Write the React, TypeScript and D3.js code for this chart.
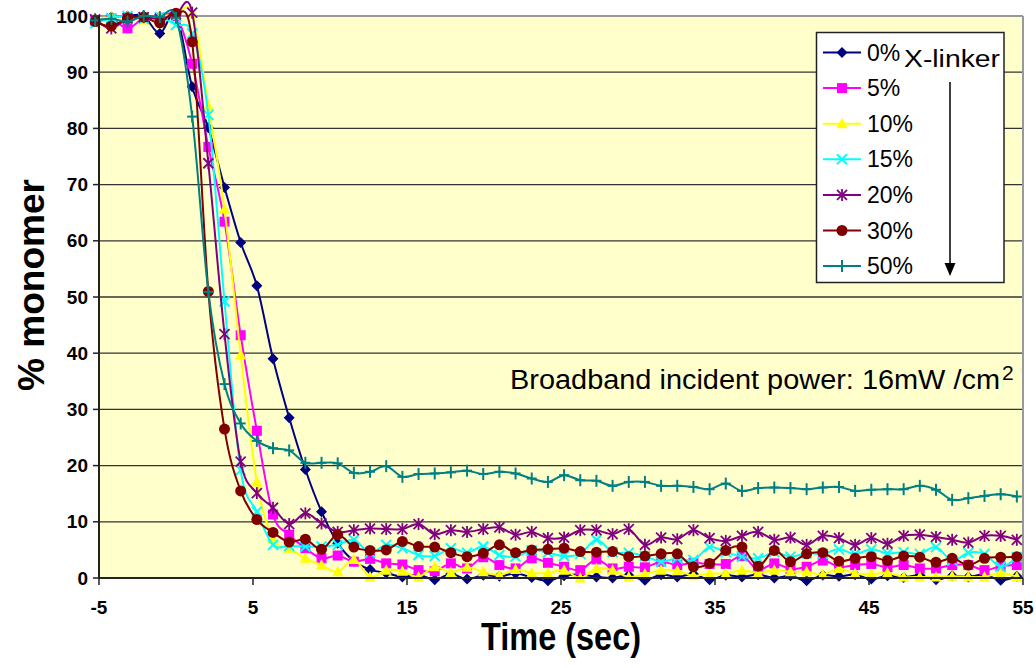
import React from 'react';
import * as d3 from 'd3';

// sample times (sec)
const times = [-5.25, -4.2, -3.15, -2.1, -1.05, 0, 1.05, 2.1, 3.15, 4.2, 5.25, 6.3, 7.35, 8.4, 9.45, 10.5, 11.55, 12.6, 13.65, 14.7, 15.75, 16.8, 17.85, 18.9, 19.95, 21, 22.05, 23.1, 24.15, 25.2, 26.25, 27.3, 28.35, 29.4, 30.45, 31.5, 32.55, 33.6, 34.65, 35.7, 36.75, 37.8, 38.85, 39.9, 40.95, 42, 43.05, 44.1, 45.15, 46.2, 47.25, 48.3, 49.35, 50.4, 51.45, 52.5, 53.55, 54.6];

// % monomer for each crosslinker fraction
const x0 = [99.5, 99.8, 100, 100, 96.9, 100.2, 87.4, 80.1, 69.5, 59.7,
  52, 39, 28.5, 19.3, 11.8, 6.2, 3.0, 1.5, 0.9, 0.2,
  0.6, -0.3, 0.7, -0.2, 0.5, 0.3, 0.8, 0.1, -0.5, 0.4,
  0.6, 0.2, 0, 0.5, -0.4, 0.6, 0.2, 0.7, -0.3, 0.5,
  0.2, 0.6, 0, 0.4, -0.5, 0.5, 0.3, 0.6, -0.2, 0.4,
  0.1, 0.5, -0.3, 0.4, 0.2, 0.6, -0.4, 0.3];
const x5 = [99.2, 99.5, 97.8, 99.6, 99.7, 100, 91.5, 76.7, 63.4, 43.2,
  26.2, 11.3, 7.7, 5.3, 3.5, 4.0, 2.9, 3.4, 2.6, 2.4,
  1.4, 1.2, 2.6, 1.7, 3.7, 2.3, 1.7, 3.5, 2.7, 2.0,
  1.4, 3.3, 1.7, 2.0, 1.9, 2.9, 2.3, 2.7, 2.5, 2.5,
  3.9, 1.5, 2.6, 1.6, 2.0, 3.1, 2.0, 2.3, 2.5, 1.9,
  2.3, 1.7, 1.7, 2.3, 2.3, 1.4, 2.1, 2.3];
const x10 = [99.6, 99.8, 99.9, 99.3, 100, 100.2, 100.5, 84, 65.6, 39.7,
  17.1, 7, 5.3, 3.5, 2.3, 1.1, 3.3, 0.2, 1.4, 1.2,
  0.2, 2.0, 1.0, 1.9, 1.1, 0.5, 1.5, 0.9, 0.9, 1.4,
  0, 1.7, 1.4, 0.2, 0.7, 1.4, 1.3, 0.4, 0.8, 0.8,
  1.4, 0.9, 1.4, 1.1, 1.1, 0.6, 1.7, 0.8, 0.7, 0.9,
  0.2, 0.2, 0.2, 0.3, 0.2, 0.2, 0.9, 0.2];
const x15 = [98.7, 99.6, 100, 99.5, 99.8, 98.4, 96.9, 82.4, 49.2, 19.2,
  11.8, 5.9, 5.7, 5.6, 5.6, 5.9, 6.8, 4.5, 5.9, 5.3,
  4.1, 3.9, 5.3, 4.5, 5.6, 4.1, 3.8, 4.9, 4.5, 3.9,
  4.3, 6.8, 4.6, 4.5, 3.9, 2.9, 3.5, 3.2, 5.5, 4.6,
  3.8, 3.5, 4.6, 3.8, 4.4, 4.3, 5.1, 4.3, 5.1, 4.4,
  4.6, 4.3, 5.5, 3.1, 4.5, 4.3, 2.0, 3.7];
const x20 = [99.4, 97.8, 99.6, 99.8, 99.5, 100.3, 100.6, 73.8, 43.4, 20.7,
  15.1, 12.5, 9.6, 11.5, 9.7, 8.2, 8.5, 8.8, 8.7, 8.7,
  9.6, 7.8, 8.5, 8.2, 8.7, 9.0, 7.7, 8.2, 7.1, 7.2,
  8.5, 8.5, 7.8, 8.7, 5.9, 7.2, 6.9, 8.5, 7.1, 6.6,
  7.5, 8.2, 6.8, 7.2, 5.9, 7.5, 7.1, 5.9, 7.1, 6.1,
  7.5, 7.7, 7.3, 6.8, 6.3, 7.5, 7.5, 6.8];
const x30 = [99.0, 98.2, 99.6, 99.8, 98.8, 100.5, 95.4, 51, 26.5, 15.5,
  10.4, 8.1, 6.4, 6.9, 5.1, 7.7, 5.5, 4.9, 5.0, 6.5,
  5.6, 5.5, 4.5, 3.8, 4.4, 5.9, 4.5, 5.0, 5.1, 5.3,
  4.7, 4.6, 4.7, 3.8, 3.9, 4.3, 4.3, 2.0, 2.6, 4.9,
  5.5, 2.1, 4.9, 2.9, 4.3, 4.5, 3.0, 3.5, 3.8, 3.1,
  3.9, 3.7, 2.8, 3.5, 2.3, 3.5, 3.7, 3.8];
const x50 = [99.2, 99.5, 99, 100, 99.8, 99.7, 82.1, 50.9, 34.5, 27.5,
  24.4, 23.1, 22.7, 20.5, 20.5, 20.4, 18.7, 18.9, 19.9, 18.0,
  18.5, 18.6, 18.8, 19.1, 18.5, 18.9, 18.6, 17.7, 17.1, 18.3,
  17.4, 17.3, 16.4, 17.1, 17.1, 16.4, 16.4, 16.2, 15.8, 16.8,
  15.5, 16.0, 16.1, 16.0, 15.8, 16.1, 16.2, 15.5, 15.7, 15.8,
  15.8, 16.4, 15.7, 13.9, 14.2, 14.6, 14.9, 14.5];

const labels = ['0%', '5%', '10%', '15%', '20%', '30%', '50%'];
const xTicks = [-5, 5, 15, 25, 35, 45, 55];
const yTicks = [0, 10, 20, 30, 40, 50, 60, 70, 80, 90, 100];

const series = [
  { name: labels[0], values: x0, color: '#000080', shape: 'diamond' },
  { name: labels[1], values: x5, color: '#FF00FF', shape: 'square' },
  { name: labels[2], values: x10, color: '#FFFF00', shape: 'triangle' },
  { name: labels[3], values: x15, color: '#00FFFF', shape: 'x' },
  { name: labels[4], values: x20, color: '#800080', shape: 'star' },
  { name: labels[5], values: x30, color: '#800000', shape: 'circle' },
  { name: labels[6], values: x50, color: '#008080', shape: 'plus' },
];

const font = "'Liberation Sans', Arial, sans-serif";

function Marker({ shape, cx, cy, color }: { shape: string; cx: number; cy: number; color: string }) {
  switch (shape) {
    case 'diamond':
      return <polygon points={`${cx},${cy - 5.5} ${cx + 5.5},${cy} ${cx},${cy + 5.5} ${cx - 5.5},${cy}`} fill={color} />;
    case 'square':
      return <rect x={cx - 5} y={cy - 5} width={10} height={10} fill={color} />;
    case 'triangle':
      return <polygon points={`${cx},${cy - 6} ${cx + 5.5},${cy + 4.5} ${cx - 5.5},${cy + 4.5}`} fill={color} />;
    case 'x':
      return (
        <g stroke={color} strokeWidth={2}>
          <line x1={cx - 5} y1={cy - 5} x2={cx + 5} y2={cy + 5} />
          <line x1={cx - 5} y1={cy + 5} x2={cx + 5} y2={cy - 5} />
        </g>
      );
    case 'star':
      return (
        <g stroke={color} strokeWidth={1.8}>
          <line x1={cx - 5} y1={cy - 5} x2={cx + 5} y2={cy + 5} />
          <line x1={cx - 5} y1={cy + 5} x2={cx + 5} y2={cy - 5} />
          <line x1={cx} y1={cy - 6} x2={cx} y2={cy + 6} />
        </g>
      );
    case 'circle':
      return <circle cx={cx} cy={cy} r={5.5} fill={color} />;
    default:
      return (
        <g stroke={color} strokeWidth={2}>
          <line x1={cx - 5} y1={cy} x2={cx + 5} y2={cy} />
          <line x1={cx} y1={cy - 6} x2={cx} y2={cy + 6} />
        </g>
      );
  }
}

export default function App() {
  const x = d3.scaleLinear().domain([-5, 55]).range([99, 1023]);
  const y = d3.scaleLinear().domain([0, 100]).range([578, 16]);
  const line = d3.line<number>()
    .x((_, i) => x(times[i]))
    .y(d => y(d))
    .curve(d3.curveCardinal.tension(0));

  const [x0p, x1p] = x.range();
  const [y0p, y1p] = y.range();

  return (
    <svg width={1036} height={668} style={{ position: 'absolute', left: 0, top: 0, background: '#fff' }}>
      {/* plot area */}
      <rect x={x0p} y={y1p} width={x1p - x0p} height={y0p - y1p} fill="#FFFFCC" />
      {yTicks.filter(t => t > 0 && t < 100).map(t => (
        <line key={t} x1={x0p} x2={x1p} y1={y(t)} y2={y(t)} stroke="#333" strokeWidth={1.3} />
      ))}
      <line x1={x0p} x2={x1p} y1={y1p} y2={y1p} stroke="#999" strokeWidth={2} />
      <line x1={x1p} x2={x1p} y1={y1p} y2={y0p} stroke="#999" strokeWidth={2} />

      {/* series */}
      {series.map(s => (
        <g key={s.name}>
          <path d={line(s.values) || ''} fill="none" stroke={s.color} strokeWidth={2} />
          {s.values.map((v, i) => (
            <Marker key={i} shape={s.shape} cx={x(times[i])} cy={y(v)} color={s.color} />
          ))}
        </g>
      ))}

      {/* axes */}
      <line x1={x0p} x2={x1p} y1={y0p} y2={y0p} stroke="#222" strokeWidth={2} />
      <line x1={x0p} x2={x0p} y1={y1p} y2={y0p} stroke="#222" strokeWidth={2} />
      {yTicks.map(t => (
        <g key={t}>
          <line x1={x0p - 6} x2={x0p} y1={y(t)} y2={y(t)} stroke="#222" strokeWidth={1.5} />
          <text x={x0p - 11} y={y(t) + 6.5} textAnchor="end" fontFamily={font} fontWeight="bold" fontSize={19}>{t}</text>
        </g>
      ))}
      {xTicks.map(t => (
        <g key={t}>
          <line x1={x(t)} x2={x(t)} y1={y0p} y2={y0p + 7} stroke="#222" strokeWidth={1.5} />
          <text x={x(t)} y={y0p + 36} textAnchor="middle" fontFamily={font} fontWeight="bold" fontSize={19}>{t}</text>
        </g>
      ))}

      <text x={561} y={650} textAnchor="middle" fontFamily={font} fontWeight="bold" fontSize={38} textLength={160} lengthAdjust="spacingAndGlyphs">Time (sec)</text>
      <text transform="translate(44,285) rotate(-90)" textAnchor="middle" fontFamily={font} fontWeight="bold" fontSize={36} textLength={212} lengthAdjust="spacingAndGlyphs">% monomer</text>

      {/* annotation */}
      <text x={510} y={389} fontFamily={font} fontSize={27} textLength={490} lengthAdjust="spacingAndGlyphs">Broadband incident power: 16mW /cm</text>
      <text x={1002} y={380} fontFamily={font} fontSize={21}>2</text>

      {/* legend */}
      <rect x={816.5} y={32.5} width={187.5} height={250} fill="#fff" stroke="#222" strokeWidth={1.5} />
      {series.map((s, i) => {
        const ly = 52.5 + i * 35.6;
        return (
          <g key={s.name}>
            <line x1={823} x2={861} y1={ly} y2={ly} stroke={s.color} strokeWidth={2} />
            <Marker shape={s.shape} cx={842} cy={ly} color={s.color} />
            <text x={867} y={ly + 8} fontFamily={font} fontSize={23}>{s.name}</text>
          </g>
        );
      })}
      <text x={904} y={67} fontFamily={font} fontSize={23} textLength={96} lengthAdjust="spacingAndGlyphs">X-linker</text>
      <line x1={950} x2={950} y1={82} y2={265} stroke="#000" strokeWidth={1.5} />
      <polygon points="944.5,263 955.5,263 950,276" fill="#000" />
    </svg>
  );
}
